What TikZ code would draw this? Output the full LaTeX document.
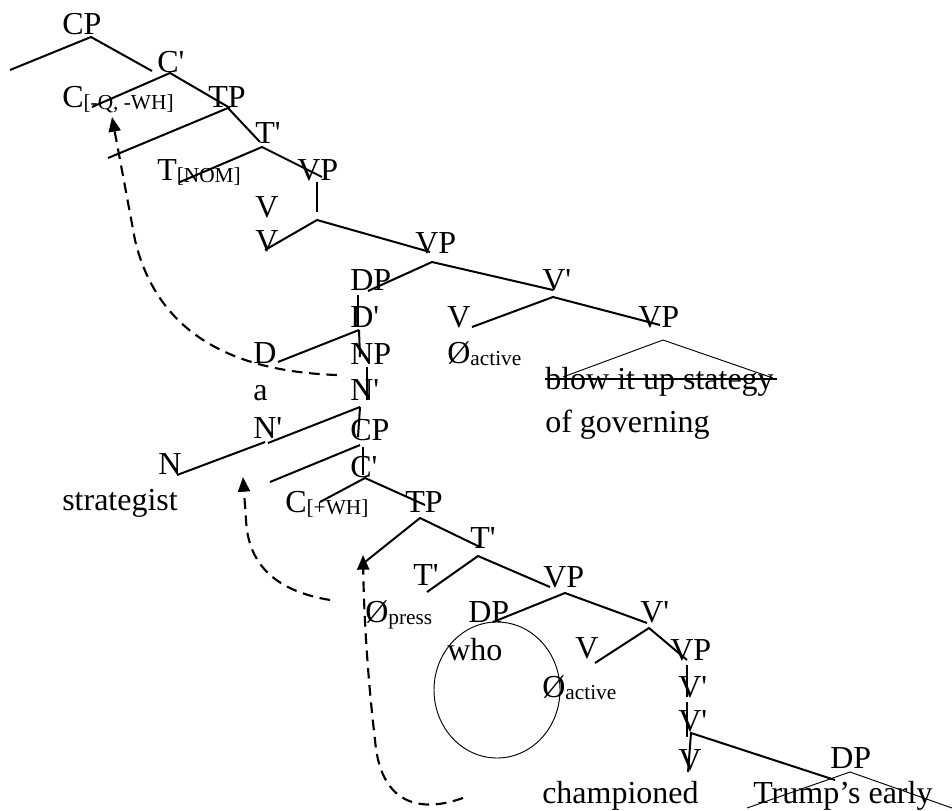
\documentclass[tikz,border=0pt]{standalone}
\usepackage{fontspec}
\setmainfont{Liberation Serif}[Ligatures=TeXOff]
\usetikzlibrary{arrows.meta}
\newcommand{\lowsub}[1]{\raisebox{-2.2pt}{\fontsize{16}{16}\selectfont #1}}
\begin{document}
\begin{tikzpicture}[x=0.75pt,y=-0.75pt,
  lbl/.style={anchor=base west,inner sep=0pt,font=\fontsize{24}{24}\selectfont},
  br/.style={line width=1.5pt},
  fine/.style={line width=0.7pt},
  mv/.style={line width=1.6pt,dash pattern=on 8pt off 5pt,
    -{Triangle[length=11pt,width=9pt]}}]
\useasboundingbox (0,0) rectangle (952,810);

% ---------- labels ----------
\node[lbl] (cp)       at (62,34)   {CP};
\node[lbl] (cbar1)    at (157,72)  {C'};
\node[lbl] (tp1)      at (208,107) {TP};
\node[lbl] (cq)       at (62,107)  {C\lowsub{[-Q, -WH]}};
\node[lbl] (tbar1)    at (255,143) {T'};
\node[lbl] (tnom)     at (157,180) {T\lowsub{[NOM]}};
\node[lbl] (vp1)      at (297,180) {VP};
\node[lbl] (v1)       at (255,217) {V};
\node[lbl] (v2)       at (255,251) {V};
\node[lbl] (vp2)      at (415,253) {VP};
\node[lbl] (dp1)      at (350,290) {DP};
\node[lbl] (vbar1)    at (542,290) {V'};
\node[lbl] (dbar)     at (350,327) {D'};
\node[lbl] (v3)       at (447,327) {V};
\node[lbl] (vp3)      at (638,327) {VP};
\node[lbl] (d)        at (253,363) {D};
\node[lbl] (np)       at (350,364) {NP};
\node[lbl] (nullact1) at (447,363) {Ø\lowsub{active}};
\node[lbl] (blow)     at (545,389) {blow it up stategy};
\node[lbl] (ofgov)    at (545,432) {of governing};
\node[lbl] (a)        at (253,400) {a};
\node[lbl] (nbar1)    at (350,400) {N'};
\node[lbl] (nbar2)    at (253,438) {N'};
\node[lbl] (cp2)      at (350,440) {CP};
\node[lbl] (n)        at (158,474) {N};
\node[lbl] (strat)    at (62,510)  {strategist};
\node[lbl] (cbar2)    at (350,477) {C'};
\node[lbl] (cwh)      at (285,512) {C\lowsub{[+WH]}};
\node[lbl] (tp2)      at (405,512) {TP};
\node[lbl] (tbar2)    at (470,548) {T'};
\node[lbl] (tbar3)    at (413,585) {T'};
\node[lbl] (vp4)      at (543,587) {VP};
\node[lbl] (nullpress) at (365,622) {Ø\lowsub{press}};
\node[lbl] (dp2)      at (468,622) {DP};
\node[lbl] (vbar2)    at (640,622) {V'};
\node[lbl] (who)      at (447,660) {who};
\node[lbl] (v4)       at (575,658) {V};
\node[lbl] (vp5)      at (670,660) {VP};
\node[lbl] (nullact2) at (542,697) {Ø\lowsub{active}};
\node[lbl] (vbar3)    at (678,697) {V'};
\node[lbl] (vbar4)    at (678,731) {V'};
\node[lbl] (v5)       at (678,770) {V};
\node[lbl] (champ)    at (542,803) {championed};
\node[lbl] (trump)    at (753,803) {Trump’s early};
\node[lbl] (dp3)      at (830,768) {DP};

% ---------- branch points ----------
\coordinate (a0) at (91,37);   \coordinate (a0l) at (10,70);   \coordinate (a0r) at (152,71);
\coordinate (b0) at (170,73);  \coordinate (b0l) at (92,107);  \coordinate (b0r) at (230,108);
\coordinate (c0) at (228,108); \coordinate (c0l) at (108,158); \coordinate (c0r) at (260,142);
\coordinate (d0) at (262,147); \coordinate (d0l) at (180,182); \coordinate (d0r) at (322,177);
\coordinate (e0) at (317,182); \coordinate (e0b) at (317,212);
\coordinate (f0) at (317,220); \coordinate (f0l) at (265,250); \coordinate (f0r) at (430,252);
\coordinate (g0) at (432,262); \coordinate (g0l) at (368,291); \coordinate (g0r) at (553,290);
\coordinate (h0) at (358,295); \coordinate (h0b) at (358,327);
\coordinate (i0) at (553,297); \coordinate (i0l) at (472,327); \coordinate (i0r) at (660,325);
\coordinate (k0) at (359,330); \coordinate (k0l) at (278,362); \coordinate (k0b) at (360,357);
\coordinate (m0) at (367,367); \coordinate (m0b) at (367,400);
\coordinate (n0) at (360,407); \coordinate (n0l) at (268,443); \coordinate (n0b) at (358,437);
\coordinate (p0) at (265,442); \coordinate (p0l) at (177,475);
\coordinate (q0) at (360,445); \coordinate (q0l) at (270,482);
\coordinate (r0) at (363,447); \coordinate (r0b) at (363,475);
\coordinate (s0) at (365,478); \coordinate (s0l) at (320,502); \coordinate (s0r) at (425,505);
\coordinate (t0) at (420,518); \coordinate (t0l) at (365,562); \coordinate (t0r) at (480,547);
\coordinate (u0) at (478,556); \coordinate (u0l) at (427,592); \coordinate (u0r) at (550,587);
\coordinate (v0) at (565,593); \coordinate (v0l) at (493,622); \coordinate (v0r) at (647,623);
\coordinate (w0) at (649,628); \coordinate (w0l) at (595,663); \coordinate (w0r) at (687,660);
\coordinate (x0) at (687,665); \coordinate (x0b) at (687,697);
\coordinate (y0) at (687,702); \coordinate (y0b) at (687,737);
\coordinate (z0) at (691,733); \coordinate (z0b) at (688,772); \coordinate (z0r) at (835,780);

% ---------- branches ----------
\draw[br] (a0l) -- (a0) -- (a0r);
\draw[br] (b0l) -- (b0) -- (b0r);
\draw[br] (c0l) -- (c0) -- (c0r);
\draw[br] (d0l) -- (d0) -- (d0r);
\draw[br] (e0) -- (e0b);
\draw[br] (f0l) -- (f0) -- (f0r);
\draw[br] (g0l) -- (g0) -- (g0r);
\draw[br] (h0) -- (h0b);
\draw[br] (i0l) -- (i0) -- (i0r);
\draw[br] (k0l) -- (k0);
\draw[br] (k0) -- (k0b);
\draw[br] (m0) -- (m0b);
\draw[br] (n0l) -- (n0);
\draw[br] (n0) -- (n0b);
\draw[br] (p0l) -- (p0);
\draw[br] (q0l) -- (q0);
\draw[br] (r0) -- (r0b);
\draw[br] (s0l) -- (s0) -- (s0r);
\draw[br] (t0l) -- (t0) -- (t0r);
\draw[br] (u0l) -- (u0) -- (u0r);
\draw[br] (v0l) -- (v0) -- (v0r);
\draw[br] (w0l) -- (w0) -- (w0r);
\draw[br] (x0) -- (x0b);
\draw[br] (y0) -- (y0b);
\draw[br] (z0b) -- (z0) -- (z0r);

% ---------- roofs over phrases ----------
\coordinate (roof1) at (663,340); \coordinate (roof1l) at (563,377); \coordinate (roof1r) at (773,378);
\draw[fine] (roof1l) -- (roof1) -- (roof1r);
\coordinate (roof2) at (850,772); \coordinate (roof2l) at (747,808); \coordinate (roof2r) at (952,808);
\draw[fine] (roof2l) -- (roof2) -- (roof2r);

% struck-out phrase
\draw[line width=1.1pt] ([yshift=7.5pt]blow.base west) -- ([xshift=2pt,yshift=7.5pt]blow.base east);

% ---------- circle round the lower specifier ----------
\coordinate (ring) at (497,690);
\draw[fine] (ring) ellipse [x radius=47.25pt, y radius=51pt];

% ---------- movement arrows ----------
\coordinate (m1s) at (337,375); \coordinate (m1k) at (135,240); \coordinate (m1e) at (112,117);
\draw[mv] (m1s) .. controls (250,372) and (160,345) .. (m1k) -- (m1e);

\coordinate (m2s) at (330,600); \coordinate (m2k) at (246,520); \coordinate (m2e) at (243,477);
\draw[mv] (m2s) .. controls (270,590) and (248,560) .. (m2k) -- (m2e);

\coordinate (m3s) at (463,798); \coordinate (m3k) at (375,740); \coordinate (m3e) at (363,555);
\draw[mv] (m3s) .. controls (415,815) and (380,800) .. (m3k)
  .. controls (368,680) and (364,620) .. (m3e);
\end{tikzpicture}
\end{document}
